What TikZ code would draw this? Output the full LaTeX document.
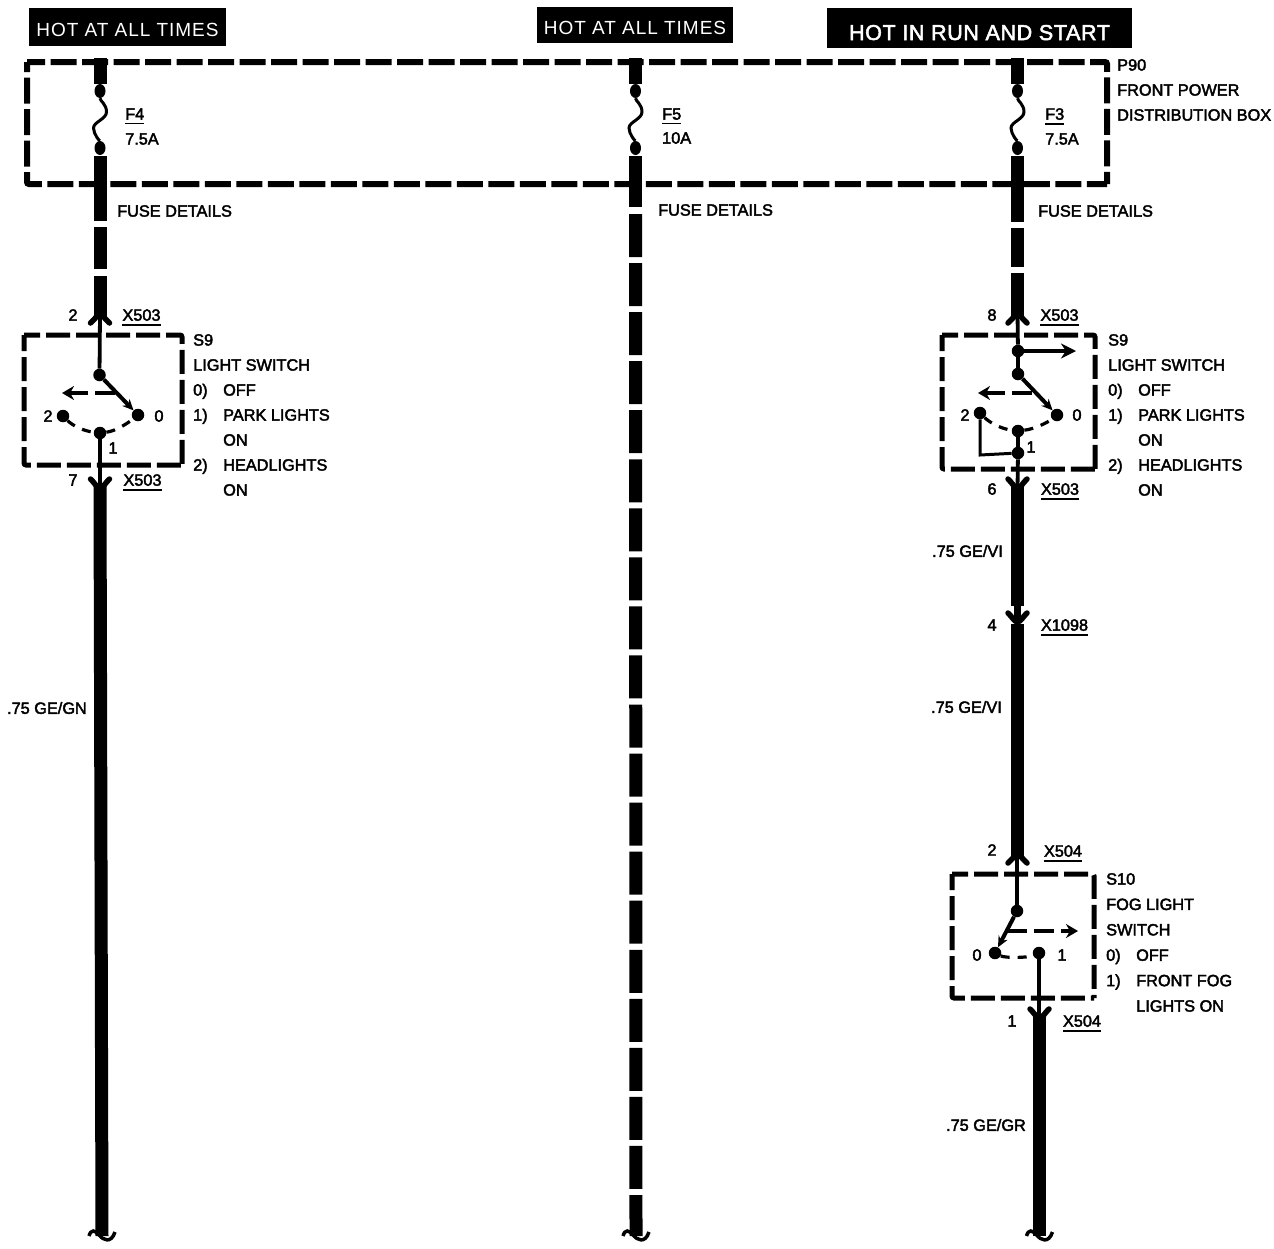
\documentclass[tikz,border=0pt]{standalone}
\usepackage{fontspec}
\newfontfamily\wirefont[FakeBold=2.5]{Liberation Sans}
\newfontfamily\bannerfont[LetterSpace=5]{Liberation Sans}
\newfontfamily\runfont[FakeBold=2.5,LetterSpace=3]{Liberation Sans}
\usetikzlibrary{arrows.meta}
\usetikzlibrary{shapes.geometric}
\newcommand{\opt}[2]{\makebox[30pt][l]{#1}#2}
\tikzset{
    labeltext/.style={font={\wirefont\fontsize{16.3}{25}\selectfont}, inner sep=0pt},
    legend/.style={labeltext, align=left, anchor=north west},
    tagrule/.style={labeltext, inner ysep=4pt, text depth=0pt,
        append after command={(\tikzlastnode.south west) edge[line width=1.3pt] (\tikzlastnode.south east)}},
    banner/.style={fill=black, text=white, inner sep=0pt, minimum height=38pt, font={\bannerfont\fontsize{19}{22}\selectfont}},
    wire/.style={line width=13pt},
    thinwire/.style={line width=3.8pt},
    boxline/.style={line width=6pt, dash pattern=on 26pt off 5.5pt, rounded corners=2pt},
    switchline/.style={line width=5pt, dash pattern=on 24pt off 6pt, rounded corners=2pt},
    dot/.style={circle, fill=black, inner sep=0pt, minimum size=12.5pt},
    fusedot/.style={ellipse, fill=black, inner sep=0pt, minimum width=11pt, minimum height=14pt},
    travel/.style={line width=3.6pt, dash pattern=on 20pt off 7pt, -{Stealth[length=12pt,width=14pt]}},
    blade/.style={line width=4pt, -{Stealth[length=11pt,width=10pt]}},
    arc/.style={line width=3.2pt, dash pattern=on 9pt off 8pt},
    forktop/.pic={\draw[line width=5.5pt, line cap=round] (-9.5,5) .. controls (-5,1) and (-3,-3) .. (0,-3) .. controls (3,-3) and (5,1) .. (9.5,5);},
    forkbot/.pic={\draw[line width=5.5pt, line cap=round] (-9.5,-5) .. controls (-6,-2) and (-3,4) .. (0,4) .. controls (3,4) and (6,-2) .. (9.5,-5);},
    wirebreak/.pic={\draw[line width=3.5pt] (-13,4) .. controls (-11,-3) and (-7,-2) .. (-3,3) .. controls (1,8) and (9,12) .. (13,0);},
}
\begin{document}
\begin{tikzpicture}[x=1pt,y=-1pt]
    \path[use as bounding box] (0,0) rectangle (1274,1248);

    % Banners
    \node[banner, minimum width=197pt] (hotl) at (127.5,27) {\raisebox{-9pt}[0pt][0pt]{HOT AT ALL TIMES}};
    \node[banner, minimum width=196pt, minimum height=36pt] (hotm) at (635,25) {\raisebox{-9pt}[0pt][0pt]{HOT AT ALL TIMES}};
    \node[banner, minimum width=305pt, minimum height=40pt, font={\runfont\fontsize{21.5}{24}\selectfont}] (hotr) at (979.5,28) {\raisebox{-12pt}[0pt][0pt]{HOT IN RUN AND START}};

    % Power distribution box
    \coordinate (pa) at (27,62);
    \coordinate (pb) at (1107,62);
    \coordinate (pc) at (1107,184);
    \coordinate (pd) at (27,184);
    \draw[boxline, dash phase=8pt] (pa) -- (pb) -- (pc);
    \draw[boxline, dash phase=16pt] (pa) -- (pd) -- (pc);
    \node[legend] (p90) at (1117,59) {P90\\FRONT POWER\\DISTRIBUTION BOX};

    % Fuses
    \foreach \wx/\wn in {100/l,635.5/m,1017.5/r}{
        \coordinate (\wn0) at (\wx,58);
        \coordinate (\wn1) at (\wx,84);
        \node[fusedot] (\wn f) at (\wx,91) {};
        \node[fusedot] (\wn g) at (\wx,148) {};
        \coordinate (\wn2) at (\wx,156);
        \draw[wire] (\wn0) -- (\wn1);
        \draw[line width=3pt] (\wn f) .. controls +(0,10) and +(0,-8) .. ++(6.5,21) .. controls +(0,7) and +(0,-6) .. ++(-13,16) .. controls +(0,6) and +(0,-6) .. (\wn g);
    }
    \node[tagrule, anchor=west] (f4) at (125,114) {F4};
    \node[labeltext, anchor=west] (a4) at (125,139) {7.5A};
    \node[tagrule, anchor=west] (f5) at (662,114) {F5};
    \node[labeltext, anchor=west] (a5) at (662,138) {10A};
    \node[tagrule, anchor=west] (f3) at (1045,114) {F3};
    \node[labeltext, anchor=west] (a3) at (1045,139) {7.5A};
    \node[labeltext, anchor=west] (fdl) at (117,211) {FUSE DETAILS};
    \node[labeltext, anchor=west] (fdm) at (658,210) {FUSE DETAILS};
    \node[labeltext, anchor=west] (fdr) at (1038,211) {FUSE DETAILS};

    % Middle wire
    \coordinate (m3) at (635.5,207);
    \coordinate (m4) at (635.5,214);
    \coordinate (m5) at (636,1236);
    \draw[wire] (m2) -- (m3);
    \draw[wire, dash pattern=on 43pt off 6.05pt] (m4) -- (m5);
    \pic at (636,1232) {wirebreak};

    % Left wire
    \foreach \ya/\yb [count=\i] in {156/221,227/269,276/316}{
        \coordinate (la\i) at (100,\ya);
        \coordinate (lb\i) at (100,\yb);
        \draw[wire] (la\i) -- (lb\i);
    }
    \pic at (100,318) {forktop};
    \pic at (100,484) {forkbot};
    \node[labeltext] (n2l) at (73,315) {2};
    \node[tagrule] (x503a) at (141.5,315) {X503};
    \node[labeltext] (n7l) at (73,480) {7};
    \node[tagrule] (x503b) at (142.5,480) {X503};

    % Left switch
    \coordinate (la) at (24,335);
    \coordinate (lb) at (182,335);
    \coordinate (lc) at (182,465);
    \coordinate (ld) at (24,465);
    \draw[switchline, dash phase=8pt] (la) -- (lb) -- (lc);
    \draw[switchline, dash phase=8pt] (la) -- (ld) -- (lc);
    \node[dot] (lp) at (99.5,375) {};
    \node[dot] (lo) at (138,415) {};
    \node[dot] (lh) at (63,416) {};
    \node[dot] (lm) at (100,433) {};
    \coordinate (lin) at (100,314);
    \coordinate (lout) at (100,488);
    \coordinate (lts) at (115,393);
    \coordinate (lte) at (62,393);
    \draw[thinwire] (lin) -- (lp);
    \draw[blade] (lp) -- (lo);
    \draw[travel] (lts) -- (lte);
    \draw[arc] (lh) .. controls +(10,10) and +(-16,-2) .. (lm);
    \draw[arc] (lm) .. controls +(16,-2) and +(-10,8) .. (lo);
    \draw[thinwire] (lm) -- (lout);
    \node[labeltext] (s2l) at (48,416) {2};
    \node[labeltext] (s0l) at (159,416) {0};
    \node[labeltext] (s1l) at (113,448) {1};
    \node[legend] (s9l) at (193,334) {S9\\LIGHT SWITCH\\\opt{0)}{OFF}\\\opt{1)}{PARK LIGHTS}\\\opt{}{ON}\\\opt{2)}{HEADLIGHTS}\\\opt{}{ON}};
    \coordinate (lw1) at (100,486);
    \coordinate (lw2) at (102,1236);
    \draw[wire] (lw1) -- (lw2);
    \pic at (102,1232) {wirebreak};
    \node[labeltext, anchor=east] (lgn) at (87,708) {.75 GE/GN};

    % Right wire, upper part
    \foreach \ya/\yb [count=\i] in {156/222,228/267,273/316}{
        \coordinate (ra\i) at (1017.5,\ya);
        \coordinate (rb\i) at (1017.5,\yb);
        \draw[wire] (ra\i) -- (rb\i);
    }
    \pic at (1017.5,318) {forktop};
    \pic at (1017.5,484) {forkbot};
    \node[labeltext] (n8r) at (992,315) {8};
    \node[tagrule] (x503c) at (1059.5,315) {X503};
    \node[labeltext] (n6r) at (992,489) {6};
    \node[tagrule] (x503d) at (1060,489) {X503};

    % Right switch
    \coordinate (ra) at (942,335);
    \coordinate (rb) at (1095,335);
    \coordinate (rc) at (1095,469);
    \coordinate (rd) at (942,469);
    \draw[switchline, dash phase=8pt] (ra) -- (rb) -- (rc);
    \draw[switchline, dash phase=8pt] (ra) -- (rd) -- (rc);
    \node[dot] (rt) at (1018,351) {};
    \node[dot] (rp) at (1018,374) {};
    \node[dot] (ro) at (1057,415) {};
    \node[dot] (rh) at (980,413) {};
    \node[dot] (rm) at (1018,431) {};
    \node[dot] (rj) at (1018,453) {};
    \coordinate (rin) at (1017.5,314);
    \coordinate (rout) at (1017.5,488);
    \coordinate (rarr) at (1076,351);
    \coordinate (rts) at (1032,393);
    \coordinate (rte) at (978,393);
    \coordinate (rk) at (980,455);
    \draw[thinwire] (rin) -- (rt);
    \draw[thinwire] (rt) -- (rp);
    \draw[line width=3.8pt, -{Stealth[length=15pt,width=15pt]}] (rt) -- (rarr);
    \draw[blade] (rp) -- (ro);
    \draw[travel] (rts) -- (rte);
    \draw[arc] (rh) .. controls +(10,10) and +(-16,-2) .. (rm);
    \draw[arc] (rm) .. controls +(16,-2) and +(-10,8) .. (ro);
    \draw[thinwire] (rm) -- (rj);
    \draw[thinwire] (rj) -- (rout);
    \draw[line width=3pt] (rh) -- (rk) -- (rj);
    \node[labeltext] (s2r) at (965,415) {2};
    \node[labeltext] (s0r) at (1077,415) {0};
    \node[labeltext] (s1r) at (1031,447) {1};
    \node[legend] (s9r) at (1108,334) {S9\\LIGHT SWITCH\\\opt{0)}{OFF}\\\opt{1)}{PARK LIGHTS}\\\opt{}{ON}\\\opt{2)}{HEADLIGHTS}\\\opt{}{ON}};

    % Right wire, lower part
    \coordinate (rw1) at (1017.5,486);
    \coordinate (rw2) at (1017.5,606);
    \coordinate (rw3) at (1017.5,621);
    \coordinate (rw4) at (1017.5,624);
    \coordinate (rw5) at (1017.5,856);
    \draw[wire] (rw1) -- (rw2);
    \draw[line width=7pt] (rw2) -- (rw3);
    \draw[wire] (rw4) -- (rw5);
    \pic at (1017.5,618) {forkbot};
    \node[labeltext, anchor=east] (gev1) at (1003,551) {.75 GE/VI};
    \node[labeltext] (n4r) at (992,625) {4};
    \node[tagrule] (x1098) at (1064.5,625) {X1098};
    \node[labeltext, anchor=east] (gev2) at (1002,707) {.75 GE/VI};
    \pic at (1017.5,858) {forktop};
    \node[labeltext] (n2r) at (992,850) {2};
    \node[tagrule] (x504a) at (1063,851) {X504};

    % Fog light switch
    \coordinate (fa) at (952,874);
    \coordinate (fb) at (1094,874);
    \coordinate (fc) at (1094,998);
    \coordinate (fd) at (952,998);
    \draw[switchline, dash phase=8pt] (fa) -- (fb) -- (fc);
    \draw[switchline, dash phase=8pt] (fa) -- (fd) -- (fc);
    \node[dot] (fp) at (1017,911) {};
    \node[dot] (fo) at (995,953) {};
    \node[dot] (fm) at (1039,953) {};
    \coordinate (fin) at (1017,855);
    \coordinate (fout) at (1039,1018);
    \coordinate (fts) at (1007,931);
    \coordinate (fte) at (1078,931);
    \draw[thinwire] (fin) -- (fp);
    \draw[blade] (fp) -- (fo);
    \draw[travel] (fts) -- (fte);
    \draw[arc] (fo) .. controls +(10,5) and +(-12,5) .. (fm);
    \draw[thinwire] (fm) -- (fout);
    \node[labeltext] (s0f) at (977,955) {0};
    \node[labeltext] (s1f) at (1062,955) {1};
    \node[legend, font={\wirefont\fontsize{16.3}{25.4}\selectfont}] (s10) at (1106,873) {S10\\FOG LIGHT\\SWITCH\\\opt{0)}{OFF}\\\opt{1)}{FRONT FOG}\\\opt{}{LIGHTS ON}};
    \pic at (1039.5,1014) {forkbot};
    \node[labeltext] (n1f) at (1012,1021) {1};
    \node[tagrule] (x504b) at (1082,1021) {X504};
    \coordinate (fw1) at (1039.5,1016);
    \coordinate (fw2) at (1039.5,1236);
    \draw[wire] (fw1) -- (fw2);
    \pic at (1039.5,1232) {wirebreak};
    \node[labeltext, anchor=east] (geg) at (1026,1125) {.75 GE/GR};
\end{tikzpicture}
\end{document}
